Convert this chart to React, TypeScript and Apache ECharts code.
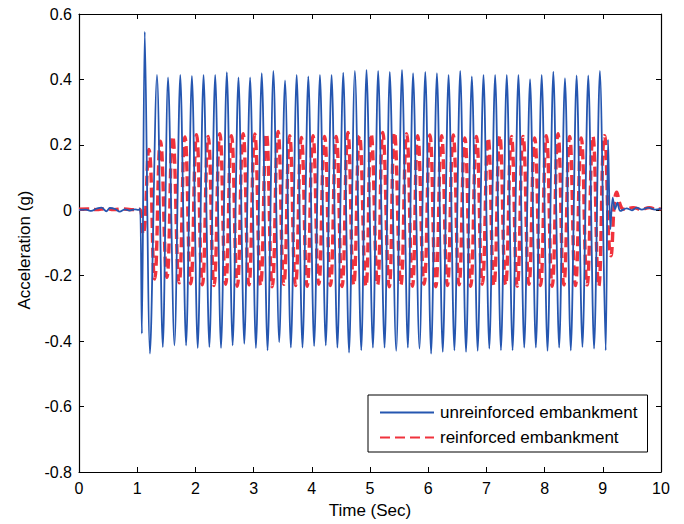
import React, { useEffect, useRef } from "react";
import * as echarts from "echarts";

// ---- Data ----
const seriesNames = ["unreinforced embankment", "reinforced embankment"];

const xTicks = { min: 0, max: 10, interval: 1 };
const yTicks = { min: -0.8, max: 0.6, interval: 0.2 };

// unreinforced embankment: time (s)
const blueTime = [
  0.0, 0.12, 0.21, 0.3, 0.39, 0.47, 0.53, 0.62, 0.7, 0.79, 0.87, 0.96, 1.02, 1.05,
  1.08, 1.13, 1.22, 1.34, 1.44, 1.53, 1.64, 1.74, 1.84, 1.94, 2.04, 2.14, 2.24, 2.34,
  2.44, 2.54, 2.64, 2.74, 2.84, 2.94, 3.04, 3.14, 3.24, 3.34, 3.44, 3.54, 3.64, 3.74,
  3.84, 3.94, 4.04, 4.14, 4.24, 4.34, 4.44, 4.54, 4.64, 4.74, 4.85, 4.94, 5.05, 5.14,
  5.25, 5.34, 5.45, 5.55, 5.65, 5.74, 5.85, 5.95, 6.05, 6.15, 6.25, 6.35, 6.45, 6.55,
  6.65, 6.75, 6.85, 6.95, 7.05, 7.15, 7.25, 7.35, 7.45, 7.55, 7.65, 7.75, 7.85, 7.95,
  8.05, 8.15, 8.25, 8.35, 8.45, 8.55, 8.65, 8.75, 8.85, 8.95, 9.05, 9.09, 9.13, 9.17,
  9.21, 9.25, 9.3, 9.41, 9.5, 9.58, 9.67, 9.78, 9.9, 10.0,
];
// unreinforced embankment: acceleration (g)
const blueAcc = [
  0.001, 0.002, -0.002, 0.005, 0.008, -0.003, 0.007, 0.004, -0.004, 0.003, -0.001, 0.003, 0.001, 0.006,
  -0.377, 0.546, -0.438, 0.414, -0.418, 0.406, -0.413, 0.414, -0.413, 0.411, -0.421, 0.414, -0.418, 0.414,
  -0.421, 0.422, -0.413, 0.406, -0.408, 0.406, -0.421, 0.419, -0.428, 0.426, -0.403, 0.397, -0.42, 0.414,
  -0.42, 0.409, -0.415, 0.414, -0.413, 0.414, -0.42, 0.421, -0.435, 0.426, -0.428, 0.429, -0.42, 0.426,
  -0.42, 0.423, -0.43, 0.429, -0.42, 0.419, -0.423, 0.423, -0.438, 0.419, -0.433, 0.414, -0.428, 0.426,
  -0.433, 0.409, -0.43, 0.414, -0.423, 0.414, -0.428, 0.414, -0.428, 0.414, -0.42, 0.401, -0.42, 0.414,
  -0.43, 0.424, -0.42, 0.404, -0.428, 0.412, -0.418, 0.412, -0.423, 0.426, -0.428, 0.216, -0.058, 0.039,
  0.003, 0.023, -0.002, 0.006, 0.0, 0.008, 0.002, 0.008, 0.002, 0.005,
];

// reinforced embankment: time (s)
const redTime = [
  0.0, 0.15, 0.3, 0.45, 0.6, 0.75, 0.9, 1.04,
  1.1, 1.2, 1.3, 1.4, 1.51, 1.61, 1.72, 1.82, 1.92, 2.02, 2.12, 2.22, 2.32, 2.42,
  2.52, 2.62, 2.72, 2.82, 2.92, 3.02, 3.12, 3.22, 3.32, 3.42, 3.52, 3.62, 3.72, 3.82,
  3.92, 4.02, 4.12, 4.22, 4.32, 4.42, 4.52, 4.62, 4.72, 4.82, 4.93, 5.02, 5.13, 5.22,
  5.33, 5.42, 5.53, 5.63, 5.73, 5.82, 5.93, 6.03, 6.13, 6.23, 6.33, 6.43, 6.53, 6.63,
  6.73, 6.83, 6.93, 7.03, 7.13, 7.23, 7.33, 7.43, 7.53, 7.63, 7.73, 7.83, 7.93, 8.03,
  8.13, 8.23, 8.33, 8.43, 8.53, 8.63, 8.73, 8.83, 8.93, 9.03, 9.14, 9.24,
  9.32, 9.38, 9.52, 9.66, 9.8, 9.93, 10.0,
];
// reinforced embankment: acceleration (g)
const redAcc = [
  0.003, 0.004, 0.002, 0.005, 0.002, 0.004, 0.002, 0.003,
  -0.073, 0.186, -0.21, 0.211, -0.205, 0.226, -0.222, 0.224, -0.225, 0.231, -0.228, 0.226, -0.23, 0.234,
  -0.226, 0.228, -0.232, 0.234, -0.228, 0.233, -0.23, 0.234, -0.234, 0.241, -0.226, 0.228, -0.23, 0.223,
  -0.232, 0.228, -0.226, 0.226, -0.23, 0.226, -0.233, 0.238, -0.228, 0.228, -0.232, 0.233, -0.228, 0.238,
  -0.234, 0.238, -0.228, 0.234, -0.232, 0.228, -0.226, 0.23, -0.234, 0.228, -0.23, 0.23, -0.228, 0.221,
  -0.232, 0.226, -0.226, 0.221, -0.23, 0.228, -0.228, 0.226, -0.232, 0.226, -0.226, 0.221, -0.23, 0.228,
  -0.232, 0.234, -0.228, 0.226, -0.23, 0.221, -0.228, 0.226, -0.232, 0.228, -0.139, 0.055,
  0.008, 0.003, 0.008, 0.003, 0.008, 0.003, 0.005,
];

const FONT = "'Liberation Sans', Arial, Helvetica, sans-serif";
const BLUE = "#2556b0";
const RED = "#f0323c";

function zip(t: number[], v: number[]) {
  return t.map((x, i) => [x, v[i]]);
}

export default function App() {
  const ref = useRef<HTMLDivElement>(null);

  useEffect(() => {
    document.body.style.margin = "0";
    if (!ref.current) return;
    const chart = echarts.init(ref.current, undefined, { renderer: "svg" });

    const axisCommon = {
      type: "value" as const,
      axisLine: { show: true, onZero: false, lineStyle: { color: "#000", width: 1.2 } },
      axisTick: { show: true, inside: true, length: 5, lineStyle: { color: "#000", width: 1 } },
      splitLine: { show: false },
    };

    chart.setOption({
      animation: false,
      backgroundColor: "#fff",
      textStyle: { fontFamily: FONT },
      grid: { left: 79, right: 23, top: 14, bottom: 50, containLabel: false },
      legend: {
        orient: "vertical",
        left: 368,
        top: 395,
        data: seriesNames,
        itemWidth: 54,
        itemHeight: 17,
        itemGap: 8,
        padding: [9, 10, 6, 11],
        borderColor: "#000",
        borderWidth: 1,
        borderRadius: 0,
        backgroundColor: "#fff",
        itemStyle: { opacity: 0 },
        textStyle: { fontFamily: FONT, fontSize: 17, color: "#000", padding: [0, 0, 0, 1] },
      },
      xAxis: [
        {
          ...axisCommon,
          position: "bottom",
          min: xTicks.min,
          max: xTicks.max,
          interval: xTicks.interval,
          name: "Time (Sec)",
          nameLocation: "middle",
          nameGap: 30,
          nameTextStyle: { fontFamily: FONT, fontSize: 17, color: "#000" },
          axisLabel: { show: true, margin: 8, fontFamily: FONT, fontSize: 16, color: "#000" },
        },
        {
          ...axisCommon,
          position: "top",
          min: xTicks.min,
          max: xTicks.max,
          interval: xTicks.interval,
          axisLabel: { show: false },
        },
      ],
      yAxis: [
        {
          ...axisCommon,
          position: "left",
          min: yTicks.min,
          max: yTicks.max,
          interval: yTicks.interval,
          name: "Acceleration (g)",
          nameLocation: "middle",
          nameGap: 46,
          nameTextStyle: { fontFamily: FONT, fontSize: 17, color: "#000", padding: [0, 14, 0, 0] },
          axisLabel: { show: true, margin: 7, fontFamily: FONT, fontSize: 16, color: "#000" },
        },
        {
          ...axisCommon,
          position: "right",
          min: yTicks.min,
          max: yTicks.max,
          interval: yTicks.interval,
          axisLabel: { show: false },
        },
      ],
      series: [
        {
          name: seriesNames[1],
          type: "line",
          xAxisIndex: 0,
          yAxisIndex: 0,
          data: zip(redTime, redAcc),
          showSymbol: false,
          symbol: "none",
          smooth: 0.5,
          z: 2,
          itemStyle: { color: RED },
          lineStyle: { color: RED, width: 3.4, type: [10, 5] },
        },
        {
          name: seriesNames[0],
          type: "line",
          xAxisIndex: 0,
          yAxisIndex: 0,
          data: zip(blueTime, blueAcc),
          showSymbol: false,
          symbol: "none",
          smooth: 0.3,
          z: 3,
          itemStyle: { color: BLUE },
          lineStyle: { color: BLUE, width: 1.8 },
        },
      ],
    });

    return () => chart.dispose();
  }, []);

  return <div ref={ref} style={{ width: 684, height: 524 }} />;
}
